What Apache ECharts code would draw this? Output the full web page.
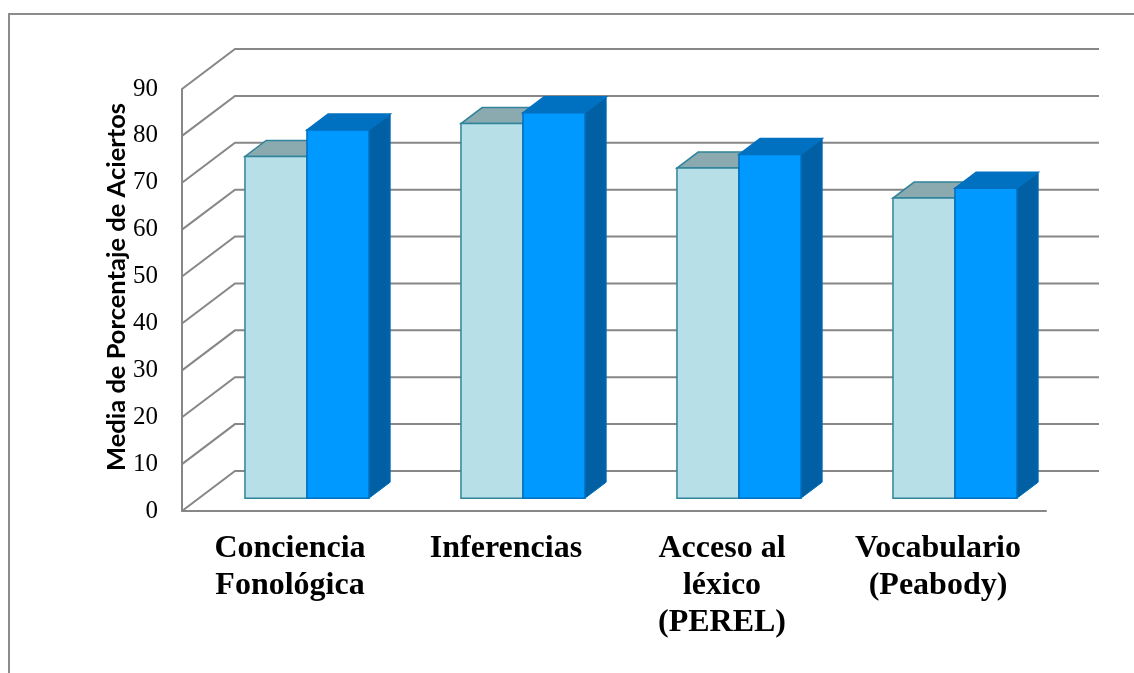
<!DOCTYPE html>
<html>
<head>
<meta charset="utf-8">
<style>
  html, body { margin: 0; padding: 0; background: #fff; }
  #main { width: 1134px; height: 673px; }
</style>
<script src="https://cdn.jsdelivr.net/npm/echarts@6/dist/echarts.min.js"></script>
</head>
<body>
<div id="main"></div>
<script>
// categorias y valores
const categories = ['Conciencia\nFonológica', 'Inferencias', 'Acceso al\nléxico\n(PEREL)', 'Vocabulario\n(Peabody)'];
const serieClara = [72.9, 79.9, 70.4, 64.0];
const serieOscura = [78.5, 82.2, 73.3, 66.1];
const yTicks = [0, 10, 20, 30, 40, 50, 60, 70, 80, 90];

// profundidad del efecto 3D
const DX = 53;
const DY = -40;
const D_FRONT = 0.32;
const D_BACK = 0.72;
const BAR_W = 62;

const dom = document.getElementById('main');
const myChart = echarts.init(dom);

function wallItem(params, api) {
  const cs = params.coordSys;
  const y = api.coord([0, api.value(0)])[1];
  const x0 = cs.x;
  return {
    type: 'polyline',
    shape: {
      points: [[x0, y], [x0 + DX, y + DY], [x0 + cs.width + DX, y + DY]]
    },
    style: { stroke: '#878787', lineWidth: 2, fill: null },
    silent: true
  };
}

function makeBarRenderer(side, colors) {
  return function (params, api) {
    const idx = api.value(0);
    const top = api.coord([idx, api.value(1)]);
    const base = api.coord([idx, 0]);
    const left = side === 0 ? top[0] - BAR_W : top[0];
    const x1 = left + D_FRONT * DX;
    const x2 = x1 + BAR_W;
    const yt = top[1] + D_FRONT * DY;
    const yb = base[1] + D_FRONT * DY;
    const ddx = (D_BACK - D_FRONT) * DX;
    const ddy = (D_BACK - D_FRONT) * DY;
    return {
      type: 'group',
      children: [
        {
          type: 'polygon',
          shape: { points: [[x2, yt], [x2 + ddx, yt + ddy], [x2 + ddx, yb + ddy], [x2, yb]] },
          style: { fill: colors.side, stroke: colors.edge, lineWidth: 1 }
        },
        {
          type: 'polygon',
          shape: { points: [[x1, yt], [x2, yt], [x2 + ddx, yt + ddy], [x1 + ddx, yt + ddy]] },
          style: { fill: colors.top, stroke: colors.edge, lineWidth: 1.5 }
        },
        {
          type: 'rect',
          shape: { x: x1, y: yt, width: BAR_W, height: yb - yt },
          style: { fill: colors.front, stroke: colors.edge, lineWidth: 1.5 }
        }
      ]
    };
  };
}

myChart.setOption({
  animation: false,
  backgroundColor: '#fff',
  graphic: [{
    type: 'rect',
    shape: { x: 9, y: 14, width: 1300, height: 800 },
    style: { fill: null, stroke: '#8c8c8c', lineWidth: 2 },
    silent: true
  }],
  grid: { left: 182, right: 88, top: 89, bottom: 162 },
  xAxis: {
    type: 'category',
    data: categories,
    axisLine: { lineStyle: { color: '#878787', width: 2 } },
    axisTick: { show: false },
    axisLabel: {
      margin: 19,
      interval: 0,
      color: '#000',
      fontFamily: 'Liberation Serif',
      fontWeight: 'bold',
      fontSize: 32,
      lineHeight: 37,
      align: 'center'
    }
  },
  yAxis: {
    type: 'value',
    min: 0,
    max: 90,
    interval: 10,
    name: 'Media de Porcentaje de Aciertos',
    nameLocation: 'middle',
    nameRotate: 90,
    nameGap: 52,
    nameMoveOverlap: false,
    nameTextStyle: {
      color: '#000',
      fontFamily: 'Lato',
      fontWeight: 'bold',
      fontSize: 25.5,
      padding: [0, 0, 0, 26]
    },
    axisLine: { show: true, lineStyle: { color: '#878787', width: 2 } },
    axisTick: { show: false },
    splitLine: { show: false },
    axisLabel: {
      margin: 24,
      color: '#000',
      fontFamily: 'Liberation Serif',
      fontSize: 25
    }
  },
  series: [
    {
      type: 'custom',
      name: 'pared',
      z: 1,
      silent: true,
      renderItem: wallItem,
      data: yTicks.map(v => [v]),
      encode: { y: 0 }
    },
    {
      type: 'custom',
      name: 'Grupo 1',
      z: 3,
      renderItem: makeBarRenderer(0, { front: '#b7dfe8', top: '#8aaab0', side: '#7fa9b3', edge: '#31849b' }),
      data: serieClara.map((v, i) => [i, v]),
      encode: { x: 0, y: 1 }
    },
    {
      type: 'custom',
      name: 'Grupo 2',
      z: 4,
      renderItem: makeBarRenderer(1, { front: '#0099ff', top: '#0070c0', side: '#0060a3', edge: '#0070c0' }),
      data: serieOscura.map((v, i) => [i, v]),
      encode: { x: 0, y: 1 }
    }
  ]
});
</script>
</body>
</html>
